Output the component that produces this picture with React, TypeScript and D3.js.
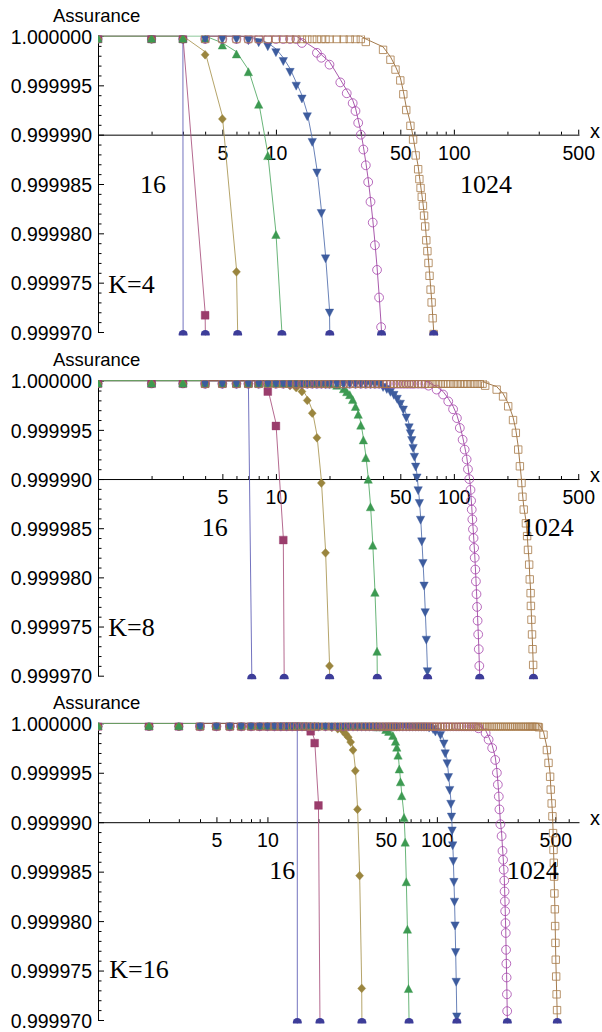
import React, { useEffect, useRef } from 'react';
import * as d3 from 'd3';

const W = 602;
const H = 1032;
const LEFT = 98;
const RIGHT = 579;
const Y_MIN = 0.99997;
// glyph markers sit a little below their data point, as in the original
const MARK_DY = 3;

// x positions of the markers that still sit on 1.000000
const topGrid = [1, 2, 3, 4, 5, 6, 7, 8, 9, 10, 11, 12, 13, 14, 15, 16, 17, 18, 19, 20,
  22, 24, 26, 28, 30, 32, 34, 36, 38, 40, 42, 44, 46, 48, 50, 52, 54, 56, 58, 60,
  63, 66, 69, 72, 75, 78, 81, 84, 87, 90, 93, 96, 100, 104, 108, 112, 116, 120,
  125, 130, 135, 140, 145, 150, 155, 160, 165, 170, 175, 180, 186, 192, 198, 204,
  210, 216, 222, 228, 234, 240, 247, 254, 261, 268, 275, 282, 290, 298, 306, 314,
  322, 330, 338, 346, 354, 362, 370, 378, 386, 394, 400];

// where each series starts on the x axis
const seriesStart = [1, 1, 1, 1, 4, 4, 4];

// tails: [x, shortfall below 1.000000 in units of 1e-6]
const k4s1 = [[4, 3000]];
const k4s2 = [[4, 28], [5, 200]];
const k4s3 = [[4, 1.6], [5, 8.1], [6, 23.6], [7, 87]];
const k4s4 = [[5, 0.7], [6, 1.6], [7, 3.4], [8, 6.7], [9, 11.9], [10, 19.9], [11, 32.4]];
const k4s5 = [[7, 0.1], [8, 0.3], [9, 0.7], [10, 1.3], [11, 2.2], [12, 3.3], [13, 4.7], [14, 6.0], [15, 7.8], [16, 10.4], [17, 13.5], [18, 17.6], [19, 22.2], [20, 27.7], [21, 60]];
const k4s6 = [[14, 0.4], [17, 1.4], [18, 1.9], [20, 2.6], [23, 4.4], [25, 5.5], [27, 6.5], [28, 7.3], [29, 8.5], [30, 9.7], [31, 11.2], [32, 12.8], [33, 14.5], [34, 16.5], [35, 18.6], [36, 20.9], [37, 23.4], [38, 26.2], [39, 29.2], [40, 33]];
const k4s7 = [[32, 0.3], [40, 1.1], [44, 2.1], [47, 3.1], [50, 4.2], [52, 5.6], [54, 7.2], [57, 8.8], [59, 10.2], [61, 11.8], [63, 13.2], [64, 14.2], [65, 15.1], [66, 16.0], [67, 16.9], [68, 17.9], [69, 19.0], [70, 20.4], [71, 21.5], [72, 22.7], [73, 24.0], [74, 25.4], [75, 26.7], [76, 28.3], [77, 29.9], [78, 32]];

const k8s1 = [[8, 90]];
const k8s2 = [[9, 0.8], [10, 4.3], [11, 15.9], [12, 124]];
const k8s3 = [[12, 0.2], [13, 0.4], [14, 0.8], [15, 1.7], [16, 3.0], [17, 5.5], [18, 10.1], [19, 17.2], [20, 28.7], [21, 80]];
const k8s4 = [[20, 0.1], [22, 0.25], [24, 0.6], [25, 0.9], [26, 1.2], [27, 1.7], [28, 2.4], [29, 3.2], [30, 4.3], [31, 5.8], [32, 7.6], [33, 9.8], [34, 12.6], [35, 16.5], [36, 21.3], [37, 27.3], [38, 50]];
const k8s5 = [[40, 0.3], [42, 0.5], [44, 0.8], [46, 1.1], [48, 1.5], [50, 2.0], [52, 2.6], [54, 3.4], [56, 4.4], [57, 5.0], [58, 5.7], [59, 6.5], [60, 7.4], [61, 8.4], [62, 9.5], [63, 10.8], [64, 12.1], [65, 13.8], [66, 16.0], [67, 18.2], [68, 20.5], [69, 23.2], [70, 26.0], [71, 29.2], [72, 33]];
const k8s6 = [[72, 0.2], [80, 0.6], [87, 1.1], [93, 1.8], [99, 2.6], [104, 3.5], [108, 4.5], [112, 5.7], [115, 6.7], [118, 7.7], [120, 8.7], [122, 9.7], [124, 10.8], [125, 11.9], [126, 12.8], [127, 13.8], [128, 14.8], [129, 15.7], [130, 16.7], [131, 17.7], [132, 18.9], [133, 20.1], [134, 21.4], [135, 22.7], [136, 24.1], [137, 25.5], [138, 27.0], [139, 28.7], [140, 30.5]];
const k8s7 = [[150, 0.2], [174, 0.6], [189, 1.3], [202, 2.3], [215, 3.7], [223, 5.0], [230, 6.7], [235, 8.4], [240, 10.1], [243, 11.5], [247, 12.8], [254, 14.2], [258, 15.5], [261, 16.9], [265, 18.4], [267, 19.9], [270, 21.3], [271, 22.6], [273, 24.0], [275, 25.5], [277, 27.0], [279, 28.6], [281, 31]];

const k16s1 = [[16, 3000]];
const k16s2 = [[18, 0.5], [19, 1.7], [20, 8.0], [21, 60]];
const k16s3 = [[24, 0.1], [26, 0.25], [28, 0.5], [29, 0.8], [30, 1.1], [31, 1.6], [32, 2.4], [33, 4.5], [34, 8.4], [35, 15.1], [36, 26.5], [37, 60]];
const k16s4 = [[45, 0.15], [50, 0.4], [52, 0.6], [55, 1.0], [57, 1.6], [58, 2.2], [59, 3.0], [60, 4.4], [61, 5.7], [62, 7.1], [64, 9.3], [65, 11.8], [66, 15.8], [67, 20.6], [68, 26.6], [69, 33]];
const k16s5 = [[90, 0.1], [95, 0.25], [98, 0.5], [105, 0.85], [110, 1.7], [112, 2.7], [115, 3.7], [117, 5.1], [119, 6.4], [121, 7.8], [122, 9.1], [123, 10.5], [124, 12.0], [125, 13.6], [126, 15.7], [127, 17.7], [128, 20.1], [129, 22.8], [130, 25.8], [131, 29.3], [132, 33]];
const k16s6 = [[176, 0.2], [194, 0.7], [202, 1.35], [212, 2.2], [221, 3.4], [226, 4.7], [229, 5.9], [232, 7.1], [234, 8.4], [237, 9.9], [241, 11.1], [244, 12.6], [246, 13.5], [248, 14.5], [250, 15.6], [251, 16.7], [252, 17.7], [253, 18.7], [254, 19.9], [255, 20.9], [256, 22.6], [257, 24.0], [258, 25.4], [259, 27.1], [260, 28.8], [261, 31]];
const k16s7 = [[400, 0.1], [426, 0.85], [446, 2.4], [456, 3.7], [466, 5.1], [470, 6.4], [476, 7.8], [481, 9.1], [485, 10.8], [488, 12.5], [490, 13.8], [492, 15.2], [494, 16.9], [497, 18.5], [499, 20.2], [501, 21.9], [503, 23.6], [506, 25.3], [509, 27.1], [512, 28.7], [515, 31]];

const xMajorTicks = [5, 10, 50, 100, 500];
const xMinorTicks = [2, 3, 4, 6, 7, 8, 9, 20, 30, 40, 60, 70, 80, 90, 200, 300, 400, 600];
const yMajorTicks = [1, 0.999995, 0.99999, 0.999985, 0.99998, 0.999975, 0.99997];
const yMinorTicks = [1, 2, 3, 4, 6, 7, 8, 9, 11, 12, 13, 14, 16, 17, 18, 19, 21, 22, 23, 24, 26, 27, 28, 29].map(i => 1 - i * 1e-6);

const styles = [
  { color: '#3d3d99', line: '#5a5ab4', shape: 'circle', open: false },
  { color: '#9a3d6c', line: '#a8507c', shape: 'square', open: false },
  { color: '#9a853e', line: '#a89450', shape: 'diamond', open: false },
  { color: '#3d9a52', line: '#4fa862', shape: 'up', open: false },
  { color: '#3d5c9e', line: '#4f6cac', shape: 'down', open: false },
  { color: '#a646ac', line: '#9a3d9e', shape: 'circle', open: true },
  { color: '#a87a48', line: '#94642e', shape: 'square', open: true },
];

const panels = [
  { k: 'K=4', top: 36, bottom: 332, xMax: 505, series: [k4s1, k4s2, k4s3, k4s4, k4s5, k4s6, k4s7],
    lab16: [140, 193.3], lab1024: [460, 193.3], labK: [108.3, 293.3] },
  { k: 'K=8', top: 380.7, bottom: 675.7, xMax: 505, series: [k8s1, k8s2, k8s3, k8s4, k8s5, k8s6, k8s7],
    lab16: [201.7, 536], lab1024: [521.7, 536], labK: [108.3, 636] },
  { k: 'K=16', top: 723.3, bottom: 1020, xMax: 690, series: [k16s1, k16s2, k16s3, k16s4, k16s5, k16s6, k16s7],
    lab16: [269.3, 879.3], lab1024: [506.7, 879.3], labK: [109.3, 978.3] },
];

const SANS = 'Liberation Sans, Arial, Helvetica, sans-serif';
const SERIF = 'Liberation Serif, Times New Roman, serif';

function markerPath(shape: string, open: boolean) {
  if (shape === 'circle') {
    const r = open ? 4.4 : 4.2;
    return `M${r},0A${r},${r} 0 1,1 ${-r},0A${r},${r} 0 1,1 ${r},0Z`;
  }
  if (shape === 'square') {
    const s = open ? 3.7 : 3.9;
    return `M${-s},${-s}H${s}V${s}H${-s}Z`;
  }
  if (shape === 'diamond') return 'M0,-4.4L4,0L0,4.4L-4,0Z';
  if (shape === 'up') return 'M0,-4.8L4.2,3.2L-4.2,3.2Z';
  return 'M0,4.8L4.2,-3.2L-4.2,-3.2Z';
}

function drawPanel(svg: any, p: any, pi: number) {
  const x = d3.scaleLog().domain([1, p.xMax]).range([LEFT, RIGHT]);
  const y = d3.scaleLinear().domain([Y_MIN, 1]).range([p.bottom, p.top]);
  const g = svg.append('g');
  const axisY = y(0.99999);

  // axes
  const gx = g.append('g').attr('transform', `translate(0,${axisY})`)
    .call(d3.axisBottom(x).tickValues(xMajorTicks).tickFormat(d3.format('d')).tickSize(-5).tickSizeOuter(0).tickPadding(11));
  gx.attr('font-family', SANS).attr('font-size', 19.5);
  gx.append('g')
    .call(d3.axisBottom(x).tickValues(xMinorTicks.filter(v => v < p.xMax)).tickFormat(() => '').tickSize(-3).tickSizeOuter(0))
    .call((s: any) => s.select('.domain').remove());

  const gy = g.append('g').attr('transform', `translate(${LEFT},0)`)
    .call(d3.axisLeft(y).tickValues(yMajorTicks).tickFormat(d3.format('.6f')).tickSize(-6).tickSizeOuter(0).tickPadding(6));
  gy.attr('font-family', SANS).attr('font-size', 19.5);
  gy.selectAll('text').attr('dy', '0.37em');
  gy.append('g')
    .call(d3.axisLeft(y).tickValues(yMinorTicks).tickFormat(() => '').tickSize(-3.5).tickSizeOuter(0))
    .call((s: any) => s.select('.domain').remove());

  g.append('text').attr('x', 53).attr('y', p.top - 14.5)
    .attr('font-family', SANS).attr('font-size', 18.5).text('Assurance');
  g.append('text').attr('x', 590).attr('y', axisY + 3)
    .attr('font-family', SANS).attr('font-size', 20).text('x');

  // clip to the plot area
  const clipId = `clip${pi}`;
  svg.append('clipPath').attr('id', clipId).append('rect')
    .attr('x', LEFT).attr('y', p.top - 0.6)
    .attr('width', RIGHT - LEFT).attr('height', p.bottom - p.top + 4.1);
  const plot = g.append('g').attr('clip-path', `url(#${clipId})`);

  const data = p.series.map((tail: number[][], si: number) =>
    topGrid.filter(v => v >= seriesStart[si] && v < tail[0][0]).map(v => [v, 0]).concat(tail));

  const line = d3.line<number[]>().x(d => x(d[0])).y(d => y(1 - d[1] * 1e-6));

  data.forEach((pts: number[][], si: number) => {
    plot.append('path').attr('d', line(pts)).attr('fill', 'none')
      .attr('stroke', styles[si].line).attr('stroke-width', 1).attr('stroke-opacity', 0.85);
  });

  data.forEach((pts: number[][], si: number) => {
    const st = styles[si];
    plot.append('g').selectAll('path').data(pts.filter(d => d[1] < 40)).enter().append('path')
      .attr('transform', (d: number[]) => `translate(${x(d[0])},${y(1 - d[1] * 1e-6) + MARK_DY})`)
      .attr('d', markerPath(st.shape, st.open))
      .attr('fill', st.open ? 'none' : st.color)
      .attr('stroke', st.color)
      .attr('stroke-width', st.open ? 1 : 0.4)
      .attr('stroke-opacity', st.open ? 0.8 : 1);
  });

  // where each curve leaves the bottom of the plot
  const exits: number[] = [];
  data.forEach((pts: number[][]) => {
    for (let i = 0; i < pts.length - 1; i++) {
      const a = pts[i], b = pts[i + 1];
      if (a[1] < 30 && b[1] >= 30) {
        const f = (30 - a[1]) / (b[1] - a[1]);
        exits.push(x(a[0]) + f * (x(b[0]) - x(a[0])));
        break;
      }
    }
  });
  plot.append('g').selectAll('circle').data(exits).enter().append('circle')
    .attr('cx', (d: number) => d).attr('cy', p.bottom + 2.5).attr('r', 4.5)
    .attr('fill', '#3d3d99');

  const serif = (t: string, pos: number[]) =>
    g.append('text').attr('x', pos[0]).attr('y', pos[1])
      .attr('font-family', SERIF).attr('font-size', 26).text(t);
  serif('16', p.lab16);
  serif('1024', p.lab1024);
  serif(p.k, p.labK);
}

export default function App() {
  const ref = useRef<SVGSVGElement>(null);
  useEffect(() => {
    const svg = d3.select(ref.current);
    svg.selectAll('*').remove();
    panels.forEach((p, pi) => drawPanel(svg, p, pi));
  }, []);
  return (
    <div style={{ position: 'absolute', left: 0, top: 0 }}>
      <svg ref={ref} width={W} height={H} style={{ display: 'block', background: '#fff' }} />
    </div>
  );
}
